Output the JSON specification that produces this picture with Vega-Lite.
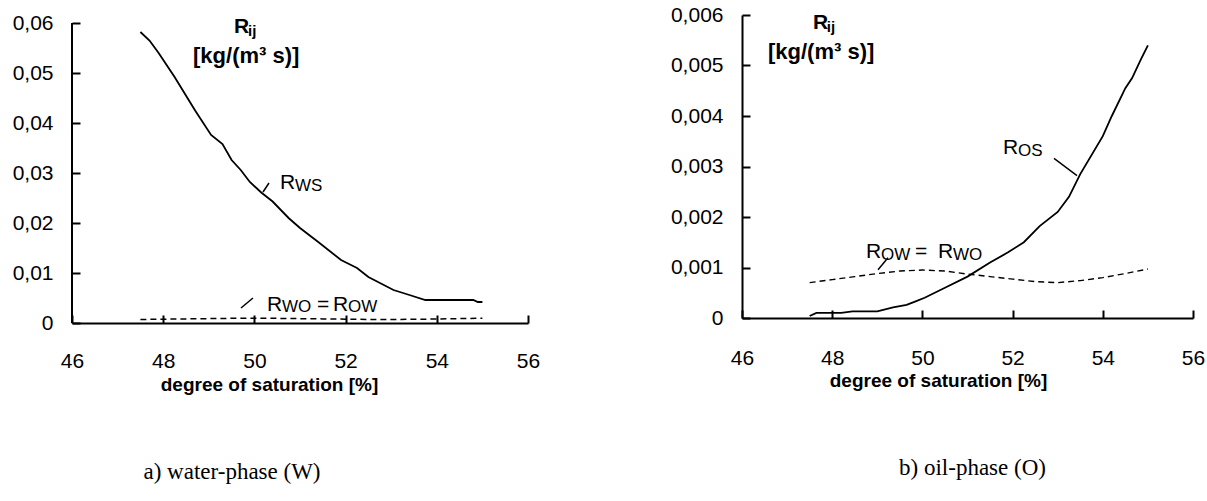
{
  "$schema": "https://vega.github.io/schema/vega-lite/v6.json",
  "background": "white",
  "padding": {"left": 12, "top": 4, "right": 5, "bottom": 5},
  "bounds": "flush",
  "spacing": 214,
  "config": {
    "view": {"stroke": null},
    "font": "Liberation Sans",
    "axis": {
      "domainColor": "black", "domainWidth": 2,
      "tickColor": "black", "tickWidth": 2, "tickSize": -8,
      "labelFont": "Liberation Sans", "labelFontSize": 21, "labelColor": "black",
      "grid": false,
      "titleFont": "Liberation Sans", "titleFontSize": 19, "titleFontWeight": "bold", "titleColor": "black"
    },
    "title": {"font": "Liberation Serif", "fontSize": 23, "fontWeight": "normal", "color": "black"}
  },
  "datasets": {
    "water": [
      {"series": "RWS", "s": 47.5, "r": 0.0582},
      {"series": "RWS", "s": 47.7, "r": 0.0565},
      {"series": "RWS", "s": 47.9, "r": 0.054},
      {"series": "RWS", "s": 48.25, "r": 0.0492},
      {"series": "RWS", "s": 48.7, "r": 0.0425},
      {"series": "RWS", "s": 49.05, "r": 0.0376},
      {"series": "RWS", "s": 49.3, "r": 0.0358},
      {"series": "RWS", "s": 49.5, "r": 0.0326},
      {"series": "RWS", "s": 49.7, "r": 0.0306},
      {"series": "RWS", "s": 49.9, "r": 0.0282},
      {"series": "RWS", "s": 50.15, "r": 0.0261},
      {"series": "RWS", "s": 50.4, "r": 0.0243},
      {"series": "RWS", "s": 50.75, "r": 0.021},
      {"series": "RWS", "s": 51.0, "r": 0.019},
      {"series": "RWS", "s": 51.4, "r": 0.0162},
      {"series": "RWS", "s": 51.9, "r": 0.0126},
      {"series": "RWS", "s": 52.25, "r": 0.011},
      {"series": "RWS", "s": 52.5, "r": 0.0092},
      {"series": "RWS", "s": 53.05, "r": 0.0066},
      {"series": "RWS", "s": 53.4, "r": 0.0056},
      {"series": "RWS", "s": 53.75, "r": 0.0046},
      {"series": "RWS", "s": 54.8, "r": 0.0046},
      {"series": "RWS", "s": 54.9, "r": 0.0042},
      {"series": "RWS", "s": 55.0, "r": 0.0042},
      {"series": "RWO", "s": 47.5, "r": 0.0007},
      {"series": "RWO", "s": 48.0, "r": 0.00076},
      {"series": "RWO", "s": 48.5, "r": 0.00082},
      {"series": "RWO", "s": 49.0, "r": 0.00088},
      {"series": "RWO", "s": 49.5, "r": 0.00093},
      {"series": "RWO", "s": 50.0, "r": 0.00095},
      {"series": "RWO", "s": 50.5, "r": 0.00093},
      {"series": "RWO", "s": 51.0, "r": 0.00087},
      {"series": "RWO", "s": 51.5, "r": 0.00082},
      {"series": "RWO", "s": 52.0, "r": 0.00077},
      {"series": "RWO", "s": 52.5, "r": 0.00072},
      {"series": "RWO", "s": 53.0, "r": 0.0007},
      {"series": "RWO", "s": 53.5, "r": 0.00074},
      {"series": "RWO", "s": 54.0, "r": 0.0008},
      {"series": "RWO", "s": 54.5, "r": 0.00088},
      {"series": "RWO", "s": 55.0, "r": 0.00097}
    ],
    "oil": [
      {"series": "ROS", "s": 47.5, "r": 0.00004},
      {"series": "ROS", "s": 47.65, "r": 0.0001},
      {"series": "ROS", "s": 48.2, "r": 0.0001},
      {"series": "ROS", "s": 48.45, "r": 0.00013},
      {"series": "ROS", "s": 49.0, "r": 0.00013},
      {"series": "ROS", "s": 49.35, "r": 0.00021},
      {"series": "ROS", "s": 49.65, "r": 0.00026},
      {"series": "ROS", "s": 49.85, "r": 0.00033},
      {"series": "ROS", "s": 50.05, "r": 0.0004},
      {"series": "ROS", "s": 50.5, "r": 0.0006},
      {"series": "ROS", "s": 51.0, "r": 0.00082},
      {"series": "ROS", "s": 51.5, "r": 0.0011},
      {"series": "ROS", "s": 51.9, "r": 0.0013},
      {"series": "ROS", "s": 52.25, "r": 0.0015},
      {"series": "ROS", "s": 52.6, "r": 0.00182},
      {"series": "ROS", "s": 53.0, "r": 0.0021},
      {"series": "ROS", "s": 53.25, "r": 0.0024},
      {"series": "ROS", "s": 53.5, "r": 0.00285},
      {"series": "ROS", "s": 54.0, "r": 0.0036},
      {"series": "ROS", "s": 54.2, "r": 0.004},
      {"series": "ROS", "s": 54.5, "r": 0.00455},
      {"series": "ROS", "s": 54.65, "r": 0.00475},
      {"series": "ROS", "s": 54.85, "r": 0.00513},
      {"series": "ROS", "s": 55.0, "r": 0.0054},
      {"series": "ROW", "s": 47.5, "r": 0.0007},
      {"series": "ROW", "s": 48.0, "r": 0.00076},
      {"series": "ROW", "s": 48.5, "r": 0.00082},
      {"series": "ROW", "s": 49.0, "r": 0.00088},
      {"series": "ROW", "s": 49.5, "r": 0.00093},
      {"series": "ROW", "s": 50.0, "r": 0.00095},
      {"series": "ROW", "s": 50.5, "r": 0.00093},
      {"series": "ROW", "s": 51.0, "r": 0.00087},
      {"series": "ROW", "s": 51.5, "r": 0.00082},
      {"series": "ROW", "s": 52.0, "r": 0.00077},
      {"series": "ROW", "s": 52.5, "r": 0.00072},
      {"series": "ROW", "s": 53.0, "r": 0.0007},
      {"series": "ROW", "s": 53.5, "r": 0.00074},
      {"series": "ROW", "s": 54.0, "r": 0.0008},
      {"series": "ROW", "s": 54.5, "r": 0.00088},
      {"series": "ROW", "s": 55.0, "r": 0.00097}
    ]
  },
  "hconcat": [
    {
      "width": 456,
      "height": 308,
      "title": {"text": "a) water-phase (W)", "orient": "bottom", "anchor": "middle", "dx": -68, "offset": 67},
      "layer": [
        {
          "data": {"name": "water"},
          "transform": [{"filter": "datum.series == 'RWS'"}],
          "mark": {"type": "line", "color": "black", "strokeWidth": 1.8},
          "encoding": {
            "x": {"field": "s", "type": "quantitative",
                  "scale": {"domain": [46, 56], "nice": false, "zero": false},
                  "axis": {"values": [46, 48, 50, 52, 54, 56], "labelFlush": false, "labelPadding": 35, "title": "degree of saturation [%]", "titleX": 197, "titleY": 67, "titleBaseline": "alphabetic"}},
            "y": {"field": "r", "type": "quantitative",
                  "scale": {"domain": [0, 0.0616], "nice": false},
                  "axis": {"values": [0, 0.01, 0.02, 0.03, 0.04, 0.05, 0.06], "domain": false, "labelPadding": 27, "title": null,
                           "labelExpr": "datum.value == 0 ? '0' : replace(format(datum.value, '.2f'), '.', ',')"}}
          }
        },
        {
          "data": {"name": "water"},
          "transform": [{"filter": "datum.series == 'RWO'"}],
          "mark": {"type": "line", "color": "black", "strokeWidth": 1.5, "strokeDash": [6, 4]},
          "encoding": {"x": {"field": "s", "type": "quantitative"}, "y": {"field": "r", "type": "quantitative"}}
        },
        {
          "data": {"values": [{}]},
          "mark": {"type": "rule", "color": "black", "strokeWidth": 2},
          "encoding": {"x": {"datum": 46}, "y": {"datum": 0}, "y2": {"datum": 0.06}}
        },
        {
          "data": {"values": [{}]},
          "mark": {"type": "rule", "color": "black", "strokeWidth": 1.5},
          "encoding": {"x": {"datum": 50.189}, "y": {"datum": 0.0262}, "x2": {"datum": 50.32}, "y2": {"datum": 0.028}}
        },
        {
          "data": {"values": [{}]},
          "mark": {"type": "rule", "color": "black", "strokeWidth": 1.5},
          "encoding": {"x": {"datum": 49.706}, "y": {"datum": 0.003}, "x2": {"datum": 49.969}, "y2": {"datum": 0.005}}
        },
        {
          "data": {"values": [{}]},
          "mark": {"type": "text", "text": "R", "fontSize": 21, "align": "left", "baseline": "alphabetic", "color": "black"},
          "encoding": {"x": {"datum": 50.561}, "y": {"datum": 0.0268}}
        },
        {
          "data": {"values": [{}]},
          "mark": {"type": "text", "text": "WS", "fontSize": 17, "align": "left", "baseline": "alphabetic", "color": "black"},
          "encoding": {"x": {"datum": 50.89}, "y": {"datum": 0.0264}}
        },
        {
          "data": {"values": [{}]},
          "mark": {"type": "text", "text": "R", "fontSize": 21, "align": "left", "baseline": "alphabetic", "color": "black"},
          "encoding": {"x": {"datum": 50.276}, "y": {"datum": 0.0024}}
        },
        {
          "data": {"values": [{}]},
          "mark": {"type": "text", "text": "WO", "fontSize": 17, "align": "left", "baseline": "alphabetic", "color": "black"},
          "encoding": {"x": {"datum": 50.605}, "y": {"datum": 0.0022}}
        },
        {
          "data": {"values": [{}]},
          "mark": {"type": "text", "text": "=", "fontSize": 21, "align": "left", "baseline": "alphabetic", "color": "black"},
          "encoding": {"x": {"datum": 51.373}, "y": {"datum": 0.0024}}
        },
        {
          "data": {"values": [{}]},
          "mark": {"type": "text", "text": "R", "fontSize": 21, "align": "left", "baseline": "alphabetic", "color": "black"},
          "encoding": {"x": {"datum": 51.724}, "y": {"datum": 0.0024}}
        },
        {
          "data": {"values": [{}]},
          "mark": {"type": "text", "text": "OW", "fontSize": 17, "align": "left", "baseline": "alphabetic", "color": "black"},
          "encoding": {"x": {"datum": 52.053}, "y": {"datum": 0.0022}}
        },
        {
          "data": {"values": [{}]},
          "mark": {"type": "text", "text": "R", "fontSize": 21, "fontWeight": "bold", "align": "left", "baseline": "alphabetic", "color": "black"},
          "encoding": {"x": {"datum": 49.553}, "y": {"datum": 0.058}}
        },
        {
          "data": {"values": [{}]},
          "mark": {"type": "text", "text": "ij", "fontSize": 15, "fontWeight": "bold", "align": "left", "baseline": "alphabetic", "color": "black"},
          "encoding": {"x": {"datum": 49.86}, "y": {"datum": 0.0574}}
        },
        {
          "data": {"values": [{}]},
          "mark": {"type": "text", "text": "[kg/(m³ s)]", "fontSize": 22, "fontWeight": "bold", "align": "left", "baseline": "alphabetic", "color": "black"},
          "encoding": {"x": {"datum": 48.654}, "y": {"datum": 0.052}}
        }
      ]
    },
    {
      "width": 451,
      "height": 303,
      "title": {"text": "b) oil-phase (O)", "orient": "bottom", "anchor": "middle", "dx": 5, "offset": 67},
      "layer": [
        {
          "data": {"name": "oil"},
          "transform": [{"filter": "datum.series == 'ROS'"}],
          "mark": {"type": "line", "color": "black", "strokeWidth": 1.8},
          "encoding": {
            "x": {"field": "s", "type": "quantitative",
                  "scale": {"domain": [46, 56], "nice": false, "zero": false},
                  "axis": {"values": [46, 48, 50, 52, 54, 56], "labelFlush": false, "labelPadding": 37, "title": "degree of saturation [%]", "titleX": 196, "titleY": 68, "titleBaseline": "alphabetic"}},
            "y": {"field": "r", "type": "quantitative",
                  "scale": {"domain": [0, 0.006], "nice": false},
                  "axis": {"values": [0, 0.001, 0.002, 0.003, 0.004, 0.005, 0.006], "labelPadding": 27, "title": null,
                           "labelExpr": "datum.value == 0 ? '0' : replace(format(datum.value, '.3f'), '.', ',')"}}
          }
        },
        {
          "data": {"name": "oil"},
          "transform": [{"filter": "datum.series == 'ROW'"}],
          "mark": {"type": "line", "color": "black", "strokeWidth": 1.4, "strokeDash": [6, 4]},
          "encoding": {"x": {"field": "s", "type": "quantitative"}, "y": {"field": "r", "type": "quantitative"}}
        },
        {
          "data": {"values": [{}]},
          "mark": {"type": "rule", "color": "black", "strokeWidth": 1.5},
          "encoding": {"x": {"datum": 52.918}, "y": {"datum": 0.003159}, "x2": {"datum": 53.428}, "y2": {"datum": 0.002821}}
        },
        {
          "data": {"values": [{}]},
          "mark": {"type": "rule", "color": "black", "strokeWidth": 1.5},
          "encoding": {"x": {"datum": 49.016}, "y": {"datum": 0.000954}, "x2": {"datum": 49.237}, "y2": {"datum": 0.001192}}
        },
        {
          "data": {"values": [{}]},
          "mark": {"type": "text", "text": "R", "fontSize": 21, "align": "left", "baseline": "alphabetic", "color": "black"},
          "encoding": {"x": {"datum": 51.787}, "y": {"datum": 0.003238}}
        },
        {
          "data": {"values": [{}]},
          "mark": {"type": "text", "text": "OS", "fontSize": 17, "align": "left", "baseline": "alphabetic", "color": "black"},
          "encoding": {"x": {"datum": 52.12}, "y": {"datum": 0.0032}}
        },
        {
          "data": {"values": [{}]},
          "mark": {"type": "text", "text": "R", "fontSize": 21, "align": "left", "baseline": "alphabetic", "color": "black"},
          "encoding": {"x": {"datum": 48.749}, "y": {"datum": 0.001192}}
        },
        {
          "data": {"values": [{}]},
          "mark": {"type": "text", "text": "OW", "fontSize": 17, "align": "left", "baseline": "alphabetic", "color": "black"},
          "encoding": {"x": {"datum": 49.082}, "y": {"datum": 0.001152}}
        },
        {
          "data": {"values": [{}]},
          "mark": {"type": "text", "text": "=", "fontSize": 21, "align": "left", "baseline": "alphabetic", "color": "black"},
          "encoding": {"x": {"datum": 49.836}, "y": {"datum": 0.001192}}
        },
        {
          "data": {"values": [{}]},
          "mark": {"type": "text", "text": "R", "fontSize": 21, "align": "left", "baseline": "alphabetic", "color": "black"},
          "encoding": {"x": {"datum": 50.346}, "y": {"datum": 0.001192}}
        },
        {
          "data": {"values": [{}]},
          "mark": {"type": "text", "text": "WO", "fontSize": 17, "align": "left", "baseline": "alphabetic", "color": "black"},
          "encoding": {"x": {"datum": 50.678}, "y": {"datum": 0.001152}}
        },
        {
          "data": {"values": [{}]},
          "mark": {"type": "text", "text": "R", "fontSize": 21, "fontWeight": "bold", "align": "left", "baseline": "alphabetic", "color": "black"},
          "encoding": {"x": {"datum": 47.574}, "y": {"datum": 0.005722}}
        },
        {
          "data": {"values": [{}]},
          "mark": {"type": "text", "text": "ij", "fontSize": 15, "fontWeight": "bold", "align": "left", "baseline": "alphabetic", "color": "black"},
          "encoding": {"x": {"datum": 47.88}, "y": {"datum": 0.005662}}
        },
        {
          "data": {"values": [{}]},
          "mark": {"type": "text", "text": "[kg/(m³ s)]", "fontSize": 22, "fontWeight": "bold", "align": "left", "baseline": "alphabetic", "color": "black"},
          "encoding": {"x": {"datum": 46.576}, "y": {"datum": 0.005126}}
        }
      ]
    }
  ]
}
